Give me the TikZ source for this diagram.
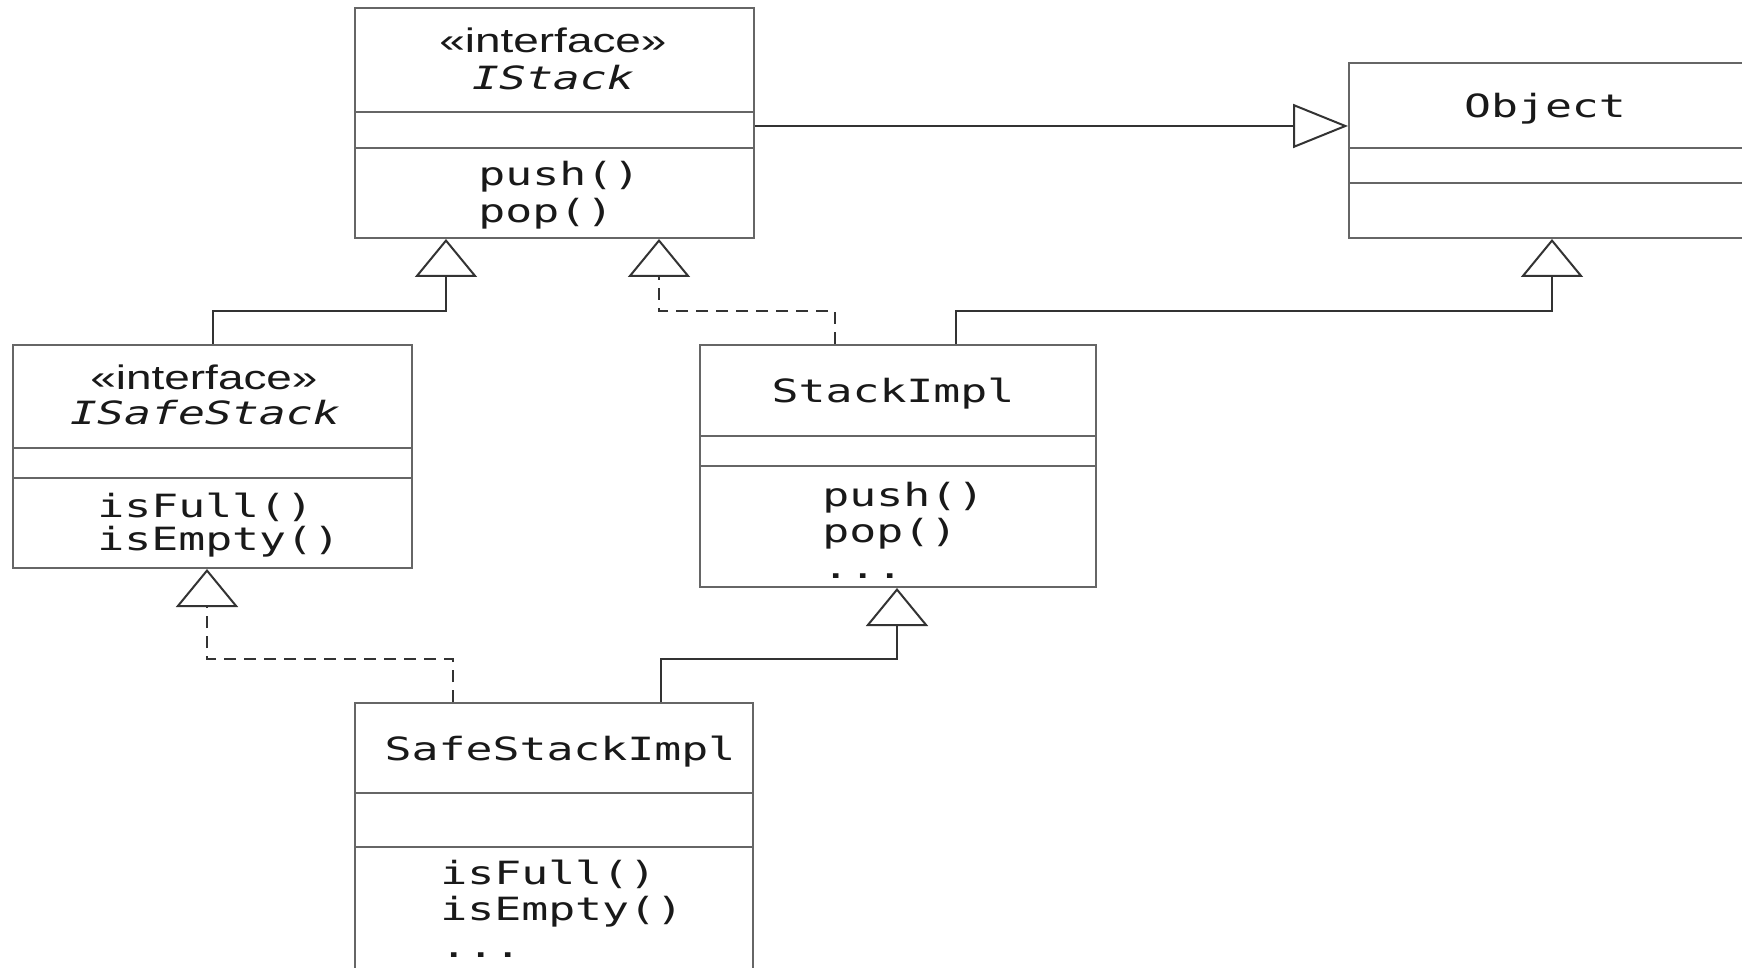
\documentclass[tikz,border=0pt]{standalone}
\usepackage{fontspec}
\usetikzlibrary{arrows.meta,calc}
\newfontfamily\umono[FakeStretch=1.4]{DejaVu Sans Mono}
\newfontfamily\usans[FakeStretch=1.35]{Liberation Sans}
\tikzset{
  vtip/.tip={Triangle[open,length=19pt,width=31pt]},
  htip/.tip={Triangle[open,length=27.5pt,width=22pt]},
  classbox/.style={draw=black!60,line width=1pt,rectangle,inner sep=0pt},
  divider/.style={draw=black!60,line width=1pt},
  conn/.style={draw=black!80,line width=1pt},
  dconn/.style={conn,dash pattern=on 6pt off 4pt},
  mtext/.style={font=\umono\fontsize{16pt}{18pt}\selectfont,inner sep=0pt,anchor=base west,text=black!90},
  ctext/.style={font=\umono\fontsize{16pt}{18pt}\selectfont,inner sep=0pt,anchor=base,text=black!90},
  itext/.style={font=\umono\itshape\fontsize{16pt}{18pt}\selectfont,inner sep=0pt,anchor=base,text=black!90},
  stext/.style={font=\usans\fontsize{17pt}{19pt}\selectfont,inner sep=0pt,anchor=base,text=black!90},
}
\begin{document}
\begin{tikzpicture}[x=0.5pt,y=-0.5pt]
\useasboundingbox (0,0) rectangle (1742,968);
\clip (0,0) rectangle (1742,968);
\fill[white] (0,0) rectangle (1742,968);

% class boxes
\node[classbox,minimum width=199.5pt,minimum height=115pt] (istack) at (554.5,123) {};
\node[classbox,minimum width=215.5pt,minimum height=87.5pt] (object) at (1564.5,150.5) {};
\node[classbox,minimum width=199.5pt,minimum height=111.5pt] (issafe) at (212.5,456.5) {};
\node[classbox,minimum width=198pt,minimum height=121pt] (stackimpl) at (898,466) {};
\node[classbox,minimum width=199pt,minimum height=143.5pt] (safeimpl) at (554,846.5) {};

% dividers
\draw[divider] (istack.west |- 0,112) -- (istack.east |- 0,112);
\draw[divider] (istack.west |- 0,148) -- (istack.east |- 0,148);
\draw[divider] (object.west |- 0,148) -- (object.east |- 0,148);
\draw[divider] (object.west |- 0,183) -- (object.east |- 0,183);
\draw[divider] (issafe.west |- 0,448) -- (issafe.east |- 0,448);
\draw[divider] (issafe.west |- 0,478) -- (issafe.east |- 0,478);
\draw[divider] (stackimpl.west |- 0,436) -- (stackimpl.east |- 0,436);
\draw[divider] (stackimpl.west |- 0,466) -- (stackimpl.east |- 0,466);
\draw[divider] (safeimpl.west |- 0,793) -- (safeimpl.east |- 0,793);
\draw[divider] (safeimpl.west |- 0,847) -- (safeimpl.east |- 0,847);

% texts: IStack
\node[stext] (istackst) at (553,53) {«interface»};
\node[itext] (istackname) at (553,90) {IStack};
\node[mtext] (istackm1) at (478,186) {push()};
\node[mtext] (istackm2) at (478,223) {pop()};

% Object
\node[ctext] (objectname) at (1545,118) {Object};

% ISafeStack
\node[stext] (issafest) at (204,390) {«interface»};
\node[itext] (issafename) at (205,425) {ISafeStack};
\node[mtext] (issafem1) at (97,517) {isFull()};
\node[mtext] (issafem2) at (97,551) {isEmpty()};

% StackImpl
\node[ctext] (stackimplname) at (893,403) {StackImpl};
\node[mtext] (stackimplm1) at (822,507) {push()};
\node[mtext] (stackimplm2) at (822,542) {pop()};
\node[mtext] (stackimplm3) at (822,578) {...};

% SafeStackImpl
\node[ctext] (safeimplname) at (560,760) {SafeStackImpl};
\node[mtext] (safeimplm1) at (440,884) {isFull()};
\node[mtext] (safeimplm2) at (440,920) {isEmpty()};
\node[mtext] (safeimplm3) at (440,957) {...};

% connectors
\draw[conn,-{htip}] ([yshift=-1.5pt]istack.east) -- ([yshift=-1.5pt]istack.east -| object.west);
\draw[conn,-{vtip}] (issafe.north) -- ++(0,-33) -| ([xshift=46pt]istack.south west);
\draw[dconn,-{vtip}] ([xshift=68pt]stackimpl.north west) -- ++(0,-33) -| ([xshift=152.5pt]istack.south west);
\draw[conn,-{vtip}] ([xshift=128.5pt]stackimpl.north west) -- ++(0,-33) -| ([xshift=102pt]object.south west);
\draw[dconn,-{vtip}] ([xshift=49.5pt]safeimpl.north west) -- ++(0,-43) -| ([xshift=97.5pt]issafe.south west);
\draw[conn,-{vtip}] ([xshift=153.5pt]safeimpl.north west) -- ++(0,-43) -| ([xshift=99pt]stackimpl.south west);
\end{tikzpicture}
\end{document}
